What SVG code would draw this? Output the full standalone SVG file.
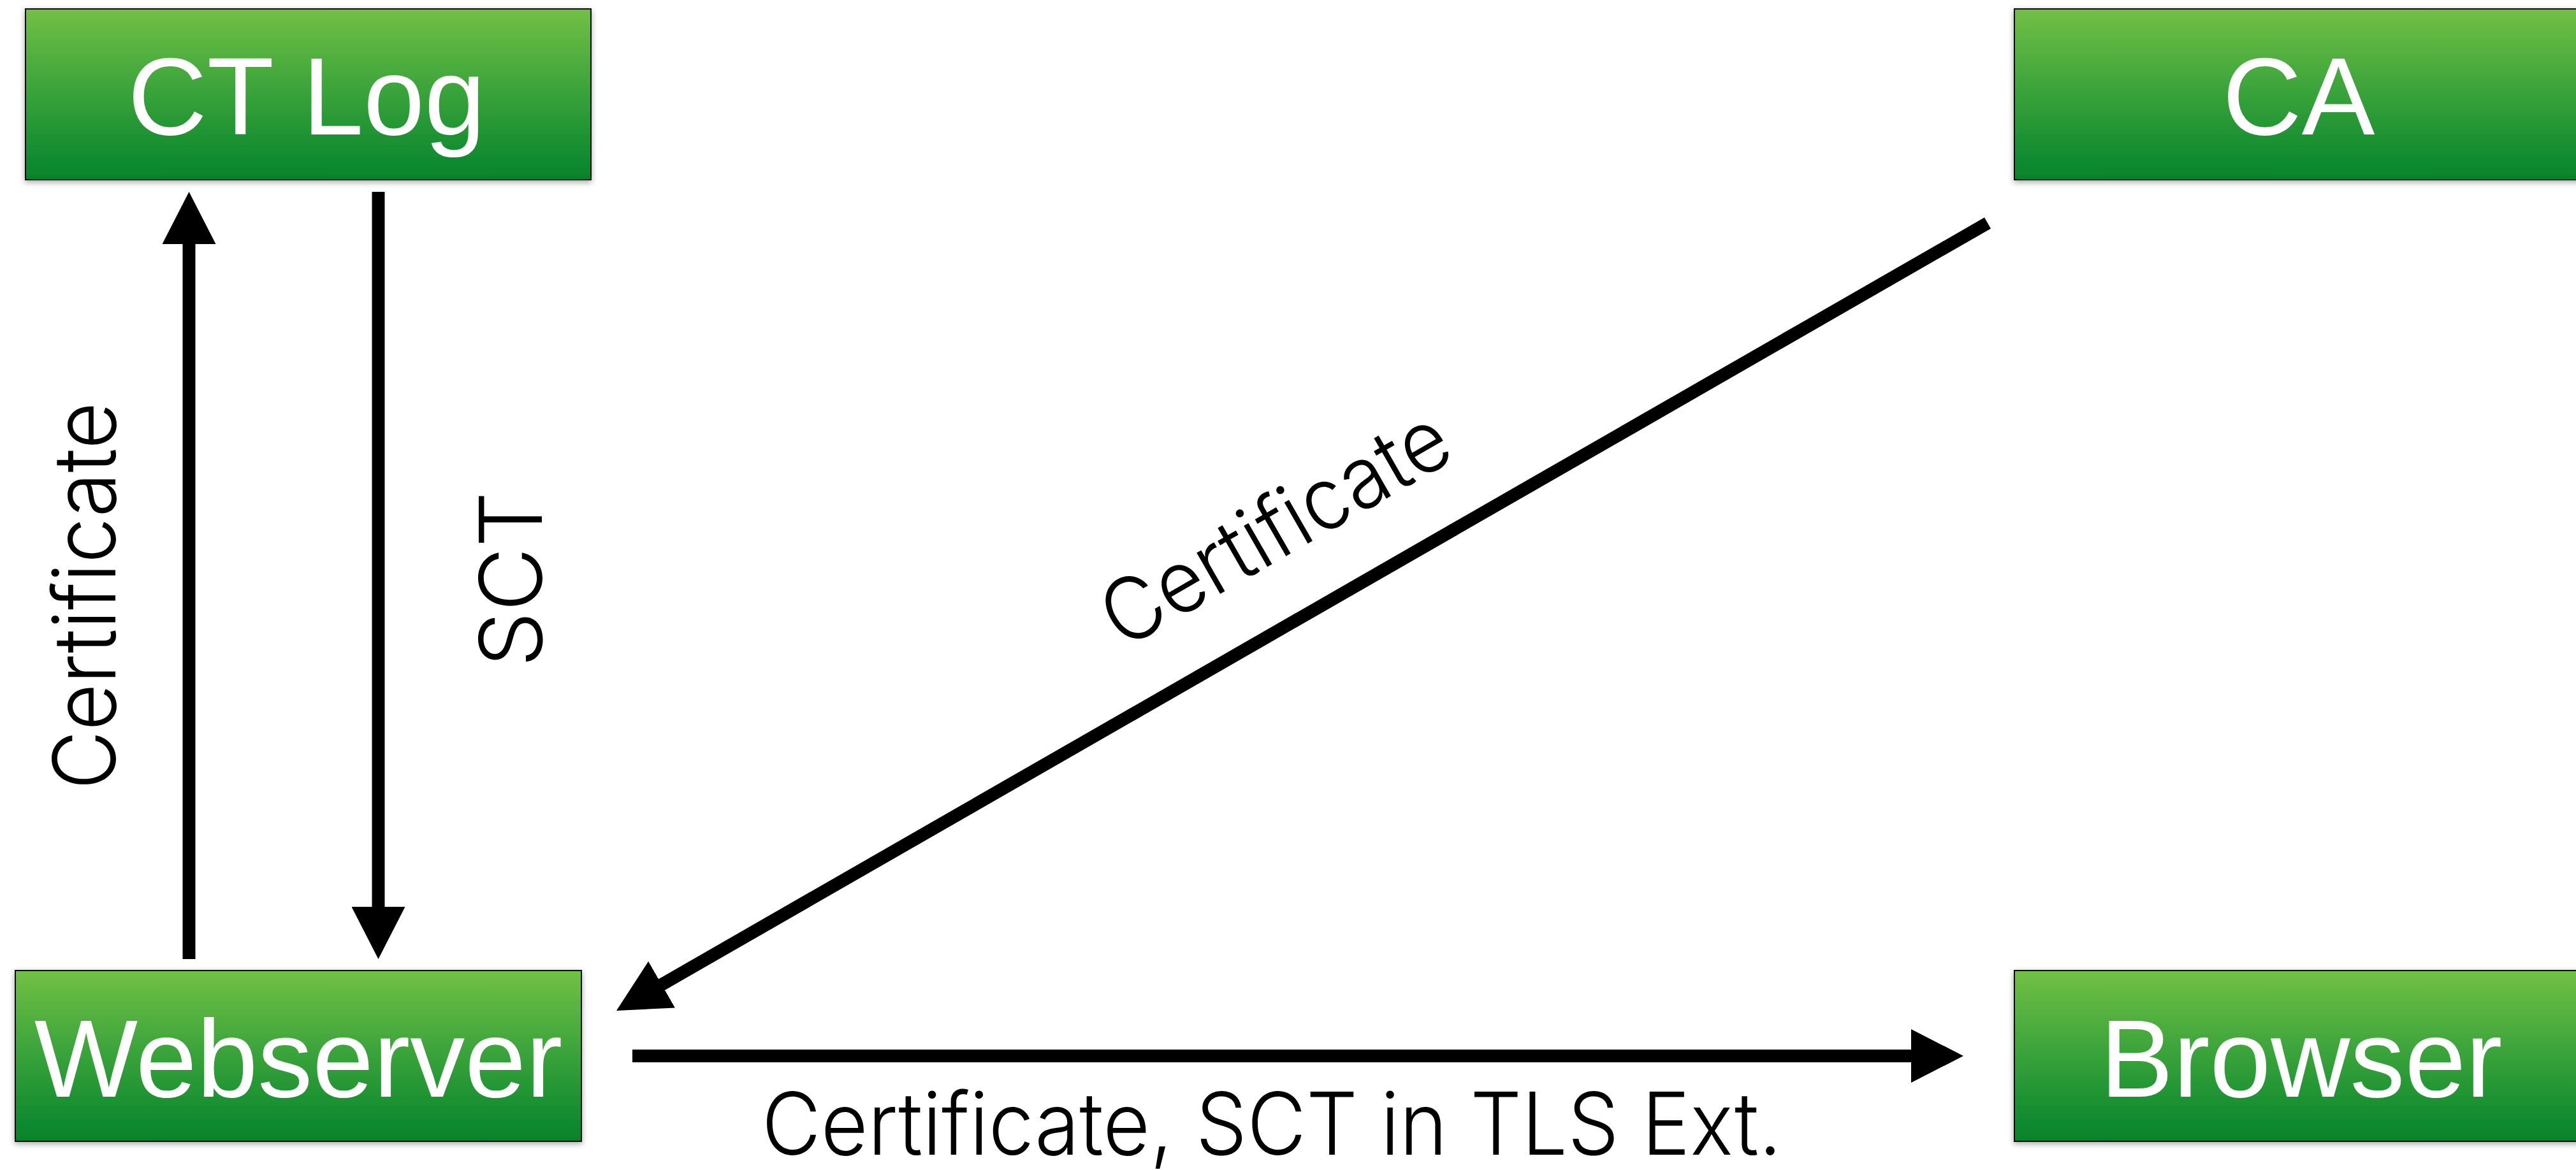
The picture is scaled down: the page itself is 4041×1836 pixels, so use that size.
<svg xmlns="http://www.w3.org/2000/svg" width="4041" height="1836" viewBox="0 0 4041 1836">
  <style>
    .box { fill: url(#greenFill); stroke: #111; stroke-width: 2; filter: url(#boxShadow); }
    .boxLabel { font-family: "Liberation Sans", Arial, sans-serif; font-size: 172px; fill: #fff; text-anchor: middle; }
    .flow { fill: none; stroke: #000; stroke-width: 20; marker-end: url(#head); }
    .flowLabel { font-family: "Inter", "Roboto", "Liberation Sans", sans-serif; font-weight: 300; font-size: 136px; fill: #000; text-anchor: middle; }
  </style>
  <defs>
    <linearGradient id="greenFill" x1="0" y1="0" x2="0" y2="1">
      <stop offset="0" stop-color="#72C045"/>
      <stop offset="0.5" stop-color="#38A23A"/>
      <stop offset="1" stop-color="#04832C"/>
    </linearGradient>
    <filter id="boxShadow" x="-5%" y="-10%" width="110%" height="125%">
      <feDropShadow dx="0" dy="3" stdDeviation="5" flood-color="#000" flood-opacity="0.35"/>
    </filter>
    <marker id="head" markerUnits="userSpaceOnUse" markerWidth="84" markerHeight="84" refX="22" refY="42" orient="auto">
      <path d="M0,0 L82,42 L0,84 Z" fill="#000"/>
    </marker>
  </defs>

  <rect width="4041" height="1836" fill="#fff"/>

  <!-- connectors -->
  <g id="connectors">
    <g id="edge-webserver-ctlog">
      <line class="flow" x1="296.5" y1="1505" x2="296.5" y2="361"/>
      <text class="flowLabel" transform="translate(181,935) rotate(-90)" textLength="608" lengthAdjust="spacingAndGlyphs">Certificate</text>
    </g>
    <g id="edge-ctlog-webserver">
      <line class="flow" x1="593.5" y1="301" x2="593.5" y2="1445"/>
      <text class="flowLabel" transform="translate(850,909) rotate(-90)" textLength="276" lengthAdjust="spacingAndGlyphs">SCT</text>
    </g>
    <g id="edge-ca-webserver">
      <line class="flow" x1="3118" y1="350" x2="1019" y2="1556"/>
      <text class="flowLabel" transform="translate(2024,869) rotate(-29.88)" textLength="606" lengthAdjust="spacingAndGlyphs">Certificate</text>
    </g>
    <g id="edge-webserver-browser">
      <line class="flow" x1="992" y1="1657" x2="3020" y2="1657"/>
      <text class="flowLabel" x="1995" y="1812" textLength="1600" lengthAdjust="spacingAndGlyphs">Certificate, SCT in TLS Ext.</text>
    </g>
  </g>

  <!-- nodes -->
  <g id="node-ctlog">
    <rect class="box" x="40" y="14" width="887" height="268"/>
    <text class="boxLabel" x="481" y="211">CT Log</text>
  </g>
  <g id="node-ca">
    <rect class="box" x="3160" y="14" width="887" height="268"/>
    <text class="boxLabel" x="3606" y="211">CA</text>
  </g>
  <g id="node-webserver">
    <rect class="box" x="24" y="1523" width="888" height="268"/>
    <text class="boxLabel" x="468" y="1721">Webserver</text>
  </g>
  <g id="node-browser">
    <rect class="box" x="3160" y="1523" width="887" height="268"/>
    <text class="boxLabel" x="3610" y="1721">Browser</text>
  </g>
</svg>
